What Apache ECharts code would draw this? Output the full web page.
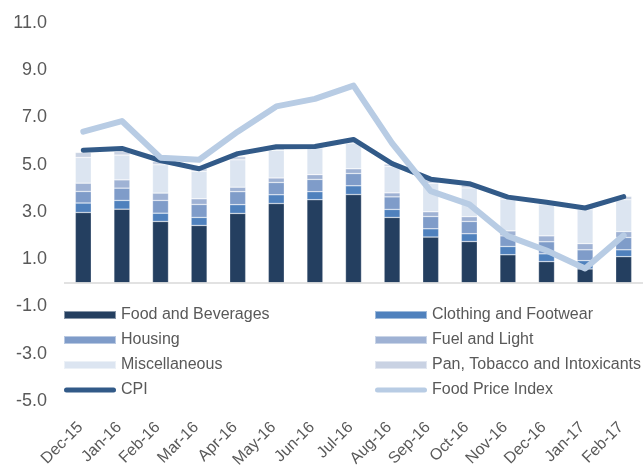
<!DOCTYPE html>
<html>
<head>
<meta charset="utf-8">
<script src="https://cdn.jsdelivr.net/npm/echarts@6/dist/echarts.min.js"></script>
<style>
    html, body { margin: 0; padding: 0; background: #fff; }
    #chart { width: 643px; height: 466px; }
</style>
</head>
<body>
<div id="chart"></div>
<script>
const categories = ['Dec-15', 'Jan-16', 'Feb-16', 'Mar-16', 'Apr-16', 'May-16', 'Jun-16', 'Jul-16',
    'Aug-16', 'Sep-16', 'Oct-16', 'Nov-16', 'Dec-16', 'Jan-17', 'Feb-17']
// contributions (percentage points)
const foodBev = [2.98, 3.12, 2.60, 2.43, 2.94, 3.36, 3.52, 3.74, 2.77, 1.94, 1.75, 1.19, 0.90, 0.59, 1.11]
const clothing = [0.40, 0.37, 0.35, 0.34, 0.37, 0.37, 0.34, 0.37, 0.34, 0.35, 0.33, 0.35, 0.33, 0.35, 0.29]
const housing = [0.49, 0.52, 0.54, 0.55, 0.55, 0.52, 0.52, 0.52, 0.53, 0.52, 0.52, 0.45, 0.51, 0.46, 0.52]
const fuel = [0.35, 0.35, 0.31, 0.24, 0.19, 0.19, 0.20, 0.20, 0.17, 0.20, 0.20, 0.21, 0.25, 0.26, 0.25]
const misc = [1.09, 1.05, 1.20, 1.16, 1.16, 1.17, 1.13, 1.09, 1.12, 1.20, 1.22, 1.35, 1.32, 1.44, 1.35]
const pan = [0.21, 0.15, 0.15, 0.13, 0.14, 0.10, 0.08, 0.10, 0.10, 0.15, 0.13, 0.07, 0.10, 0.08, 0.14]
const cpi = [5.61, 5.69, 5.18, 4.83, 5.47, 5.76, 5.77, 6.07, 5.05, 4.39, 4.20, 3.63, 3.41, 3.17, 3.65]
const foodIndex = [6.40, 6.85, 5.30, 5.21, 6.40, 7.47, 7.79, 8.35, 5.91, 3.88, 3.32, 1.98, 1.37, 0.61, 2.01]
const yTicks = [-5, -3, -1, 1, 3, 5, 7, 9, 11]

const font = 'Liberation Sans, Arial, sans-serif'
// capsule shaped icon for the two lines
const lineIcon = 'path://M2.5,0 H49.5 A2.5,2.5 0 0 1 49.5,5 H2.5 A2.5,2.5 0 0 1 2.5,0 Z'

const chart = echarts.init(document.getElementById('chart'))

// stacked bar series helper
function barSeries (name, data, color) {
    return {
        name: name,
        type: 'bar',
        stack: 'total',
        barWidth: 16,
        data: data,
        itemStyle: { color: color, borderColor: 'rgba(255,255,255,0.45)', borderWidth: 0.6 }
    }
}

const series = [
    barSeries('Food and Beverages', foodBev, '#243F60'),
    barSeries('Clothing and Footwear', clothing, '#4F81BD'),
    barSeries('Housing', housing, '#7F9CC9'),
    barSeries('Fuel and Light', fuel, '#9FB2D4'),
    barSeries('Miscellaneous', misc, '#DCE5F1'),
    barSeries('Pan, Tobacco and Intoxicants', pan, '#C9D2E3'),
    {
        name: 'CPI',
        type: 'line',
        data: cpi,
        showSymbol: false,
        itemStyle: { color: '#325A88' },
        lineStyle: { color: '#325A88', width: 5, cap: 'round', join: 'round' },
        z: 3
    },
    {
        name: 'Food Price Index',
        type: 'line',
        data: foodIndex,
        showSymbol: false,
        itemStyle: { color: '#B8CCE4' },
        lineStyle: { color: '#B8CCE4', width: 6, cap: 'round', join: 'round' },
        z: 4
    }
]
// zero line
series[0].markLine = {
    silent: true,
    symbol: 'none',
    label: { show: false },
    lineStyle: { color: '#D9D9D9', width: 1.5, type: 'solid' },
    data: [{ yAxis: 0 }]
}

const legendBase = {
    orient: 'vertical',
    top: 307,
    padding: 0,
    itemWidth: 52,
    itemHeight: 8,
    itemGap: 9,
    textStyle: { fontFamily: font, fontSize: 16, color: '#595959', lineHeight: 16 }
}

const option = {
    backgroundColor: '#fff',
    animation: false,
    grid: { left: 64, right: 0, top: 23, bottom: 65, outerBoundsMode: 'none' },
    legend: [
        Object.assign({}, legendBase, {
            left: 63,
            data: [
                { name: 'Food and Beverages', icon: 'rect' },
                { name: 'Housing', icon: 'rect' },
                { name: 'Miscellaneous', icon: 'rect' },
                { name: 'CPI', icon: lineIcon }
            ]
        }),
        Object.assign({}, legendBase, {
            left: 374,
            data: [
                { name: 'Clothing and Footwear', icon: 'rect' },
                { name: 'Fuel and Light', icon: 'rect' },
                { name: 'Pan, Tobacco and Intoxicants', icon: 'rect' },
                { name: 'Food Price Index', icon: lineIcon }
            ]
        })
    ],
    xAxis: {
        type: 'category',
        data: categories,
        axisLine: { show: false, onZero: false },
        axisTick: { show: false },
        axisLabel: {
            rotate: 45,
            interval: 0,
            margin: 21,
            padding: [0, 4, 0, 0],
            fontFamily: font,
            fontSize: 16,
            color: '#595959'
        }
    },
    yAxis: {
        type: 'value',
        min: -5,
        max: 11,
        splitLine: { show: false },
        axisLine: { show: false },
        axisTick: { show: false },
        axisLabel: {
            customValues: yTicks,
            margin: 17,
            fontFamily: font,
            fontSize: 18,
            color: '#595959',
            formatter: v => v.toFixed(1)
        }
    },
    series: series
}

chart.setOption(option)
</script>
</body>
</html>
